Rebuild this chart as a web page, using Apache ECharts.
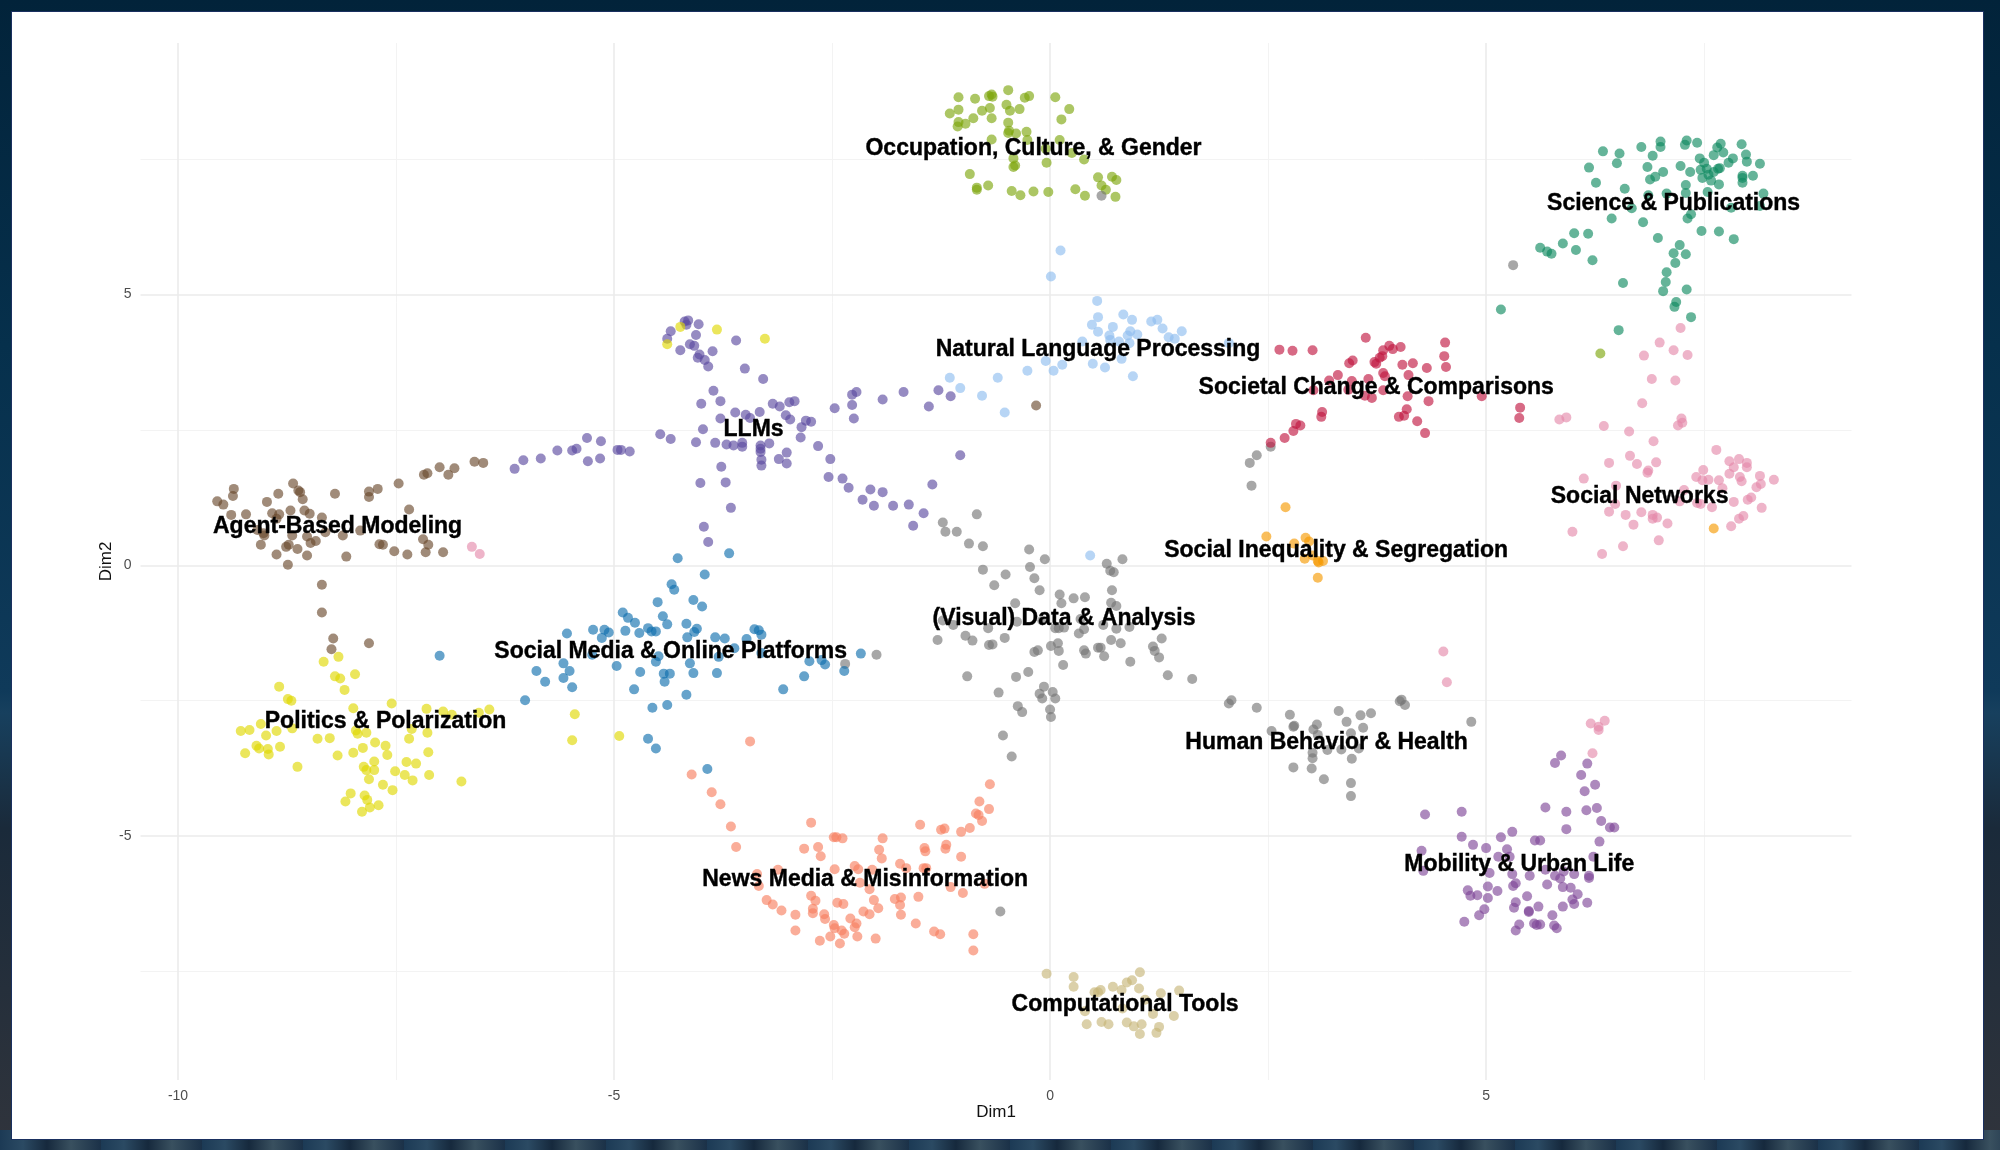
<!DOCTYPE html>
<html>
<head>
<meta charset="UTF-8">
<title>Topic map</title>
<script src="https://cdn.jsdelivr.net/npm/echarts@6/dist/echarts.min.js"></script>
<style>
	html, body { margin: 0; padding: 0; width: 2000px; height: 1150px; overflow: hidden; }
	body { background: linear-gradient(180deg, #02233a 0, #06304c 30%, #0f3a5a 60%, #17405e 62%, #1a2a3a 72%, #30343c 100%); }
	#strip {
		position: absolute; left: 0; top: 1130px; width: 2000px; height: 20px;
		background: repeating-linear-gradient(90deg, #1c3a55 0, #2b4a63 23px, #16293d 47px, #39505f 71px, #1b3148 101px);
	}
	#panel { position: absolute; left: 12px; top: 12px; width: 1971px; height: 1127px; background: #fff; box-shadow: 0 0 0 1px #1a3060; }
	#chart { position: absolute; left: 0; top: 0; width: 2000px; height: 1150px; }
</style>
</head>
<body>
<div id="strip"></div>
<div id="panel"></div>
<div id="chart"></div>
<script>
// tick values
var xMajor = [-10, -5, 0, 5];
var xMinor = [-7.5, -2.5, 2.5, 7.5];
var yMajor = [-5, 0, 5];
var yMinor = [-7.5, -2.5, 2.5, 7.5];

// points, [Dim1, Dim2]
var occupation = [[-1.05,8.64],[-0.86,8.61],[-0.70,8.66],[-0.67,8.69],[-0.66,8.65],[-0.48,8.77],[-0.29,8.63],[-0.24,8.66],[0.06,8.64],[0.22,8.42],[-1.15,8.34],[-1.05,8.41],[-0.78,8.39],[-0.69,8.44],[-0.50,8.50],[-0.46,8.39],[-0.35,8.42],[0.13,8.23],[-0.88,8.25],[-0.97,8.15],[-1.05,8.18],[-1.06,8.10],[-0.67,8.25],[-0.48,8.17],[-0.47,8.02],[-0.48,7.98],[-0.39,7.97],[-0.27,8.00],[-0.67,7.86],[-0.26,7.85],[0.11,7.85],[-0.05,7.69],[0.25,7.61],[0.39,7.49],[-0.42,7.51],[-0.04,7.43],[-0.40,7.38],[-0.42,7.35],[-0.92,7.22],[-0.84,6.97],[-0.84,6.93],[-0.71,7.01],[-0.44,6.91],[-0.34,6.83],[-0.19,6.90],[-0.02,6.89],[0.29,6.94],[0.40,6.82],[0.55,7.16],[0.71,7.17],[0.76,7.11],[0.59,7.01],[0.64,6.93],[0.75,6.80],[6.31,3.91]];
var nlp = [[0.12,5.81],[0.01,5.33],[0.54,4.88],[0.55,4.58],[0.84,4.63],[0.94,4.53],[1.16,4.50],[1.23,4.53],[0.48,4.44],[0.72,4.40],[1.29,4.37],[0.55,4.31],[1.51,4.32],[0.92,4.32],[1.00,4.26],[0.89,4.24],[0.68,4.24],[1.36,4.21],[1.43,4.18],[0.37,4.13],[0.69,4.16],[0.79,4.13],[0.91,4.10],[2.05,4.10],[-0.05,3.77],[0.82,3.81],[0.49,3.72],[0.14,3.70],[0.63,3.65],[0.04,3.59],[-0.26,3.59],[0.95,3.49],[-0.60,3.46],[-1.15,3.46],[-1.03,3.27],[-0.78,3.13],[-0.52,2.82],[0.46,0.18]];
var llms = [[-4.15,4.52],[-4.19,4.50],[-4.17,4.44],[-4.03,4.45],[-4.35,4.32],[-4.06,4.25],[-3.60,4.15],[-4.39,4.18],[-4.13,4.08],[-4.08,4.05],[-4.24,3.97],[-3.87,3.95],[-4.02,3.89],[-4.04,3.83],[-3.96,3.79],[-3.92,3.67],[-3.50,3.63],[-3.29,3.44],[-3.86,3.22],[-2.22,3.20],[-2.27,3.15],[-4.00,2.98],[-3.78,3.03],[-1.68,3.20],[-1.92,3.06],[-1.28,3.23],[-1.14,3.12],[-2.47,2.90],[-2.27,2.96],[-1.39,2.93],[-3.18,2.98],[-3.10,2.93],[-2.99,3.01],[-2.93,3.03],[-3.61,2.82],[-3.49,2.78],[-3.33,2.83],[-3.03,2.77],[-3.78,2.71],[-3.44,2.72],[-2.98,2.69],[-2.80,2.67],[-2.74,2.65],[-2.25,2.71],[-2.85,2.55],[-3.98,2.51],[-4.47,2.42],[-4.35,2.33],[-2.86,2.36],[-4.06,2.27],[-3.84,2.26],[-3.71,2.23],[-3.63,2.21],[-3.53,2.26],[-3.53,2.19],[-3.22,2.25],[-3.32,2.21],[-2.66,2.20],[-3.32,2.15],[-6.14,1.78],[-6.04,1.94],[-5.84,1.97],[-5.65,2.12],[-5.48,2.12],[-5.43,2.15],[-5.31,2.35],[-5.15,2.29],[-5.30,1.92],[-5.16,1.97],[-4.96,2.13],[-4.92,2.13],[-4.82,2.10],[-3.32,2.09],[-3.31,1.95],[-3.31,1.84],[-3.11,1.96],[-3.02,2.08],[-3.02,1.88],[-3.77,1.82],[-4.01,1.52],[-3.72,1.53],[-3.66,1.06],[-3.97,0.71],[-3.92,0.43],[-2.52,1.96],[-2.54,1.63],[-2.38,1.60],[-2.31,1.43],[-2.06,1.40],[-1.92,1.35],[-2.15,1.21],[-2.02,1.10],[-1.80,1.10],[-1.62,1.12],[-1.45,0.96],[-1.57,0.73],[-1.35,1.49],[-1.03,2.03]];
var visualData = [[-0.84,0.94],[-1.23,0.79],[-1.20,0.62],[-1.07,0.62],[-0.93,0.40],[-0.77,0.35],[-0.24,0.29],[-0.06,0.11],[-0.77,-0.08],[-0.51,-0.17],[-0.23,-0.03],[-0.18,-0.24],[-0.64,-0.37],[-0.12,-0.46],[-0.40,-0.70],[0.11,-0.54],[0.13,-0.70],[0.27,-0.61],[0.40,-0.59],[0.65,0.03],[0.83,0.11],[0.69,-0.10],[0.73,-0.13],[0.71,-0.46],[0.70,-0.69],[0.76,-0.75],[-1.23,-1.02],[-1.11,-1.10],[-0.71,-1.16],[-0.38,-1.04],[-0.09,-1.02],[0.35,-0.99],[0.61,-1.10],[0.06,-1.16],[0.10,-1.16],[0.16,-1.15],[0.39,-1.18],[0.33,-1.26],[0.76,-1.17],[0.91,-1.14],[-1.29,-1.38],[-0.97,-1.30],[-0.89,-1.39],[-0.52,-1.34],[-0.70,-1.47],[-0.66,-1.46],[0.09,-1.44],[0.01,-1.49],[0.10,-1.58],[-0.18,-1.60],[-0.14,-1.57],[0.39,-1.57],[0.41,-1.63],[0.55,-1.52],[0.58,-1.52],[0.70,-1.38],[0.81,-1.44],[0.62,-1.68],[1.18,-1.50],[1.20,-1.58],[1.25,-1.70],[1.28,-1.35],[0.92,-1.78],[0.15,-1.84],[-1.99,-1.65],[1.35,-2.03],[1.63,-2.10],[-0.25,-1.97],[-0.39,-2.06],[-0.95,-2.05],[-0.07,-2.24],[0.03,-2.34],[0.06,-2.46],[-0.12,-2.37],[-0.09,-2.46],[-0.59,-2.35],[-0.37,-2.60],[-0.32,-2.71],[0,-2.66],[0.01,-2.80],[-0.54,-3.14],[-0.44,-3.53],[0.59,6.82],[5.31,5.54],[-0.57,-6.39],[2.29,1.89],[2.37,2.03],[2.31,1.47],[2.53,2.19],[-2.35,-1.82]];
var humanBehavior = [[2.05,-2.55],[2.08,-2.49],[2.37,-2.63],[2.75,-2.76],[3.31,-2.69],[3.56,-2.77],[3.68,-2.73],[3.40,-2.89],[4.01,-2.51],[4.03,-2.48],[4.07,-2.58],[4.83,-2.89],[2.79,-2.98],[2.80,-2.96],[3.06,-2.94],[3.02,-3.03],[3.59,-3.00],[2.54,-3.06],[3.07,-3.13],[3.45,-3.10],[3.18,-3.41],[3.34,-3.40],[3.54,-3.38],[3.01,-3.46],[3.01,-3.56],[3.46,-3.57],[2.79,-3.73],[3.00,-3.75],[3.14,-3.95],[3.45,-4.02],[3.45,-4.26]];
var socialMedia = [[-3.68,0.22],[-4.27,0.13],[-3.96,-0.17],[-4.34,-0.35],[-4.31,-0.45],[-4.50,-0.68],[-4.09,-0.64],[-3.99,-0.76],[-4.90,-0.87],[-4.84,-0.97],[-4.76,-1.06],[-4.44,-0.94],[-4.39,-1.09],[-4.17,-1.08],[-4.05,-1.17],[-4.08,-1.23],[-4.16,-1.33],[-5.54,-1.26],[-5.24,-1.19],[-5.11,-1.19],[-5.06,-1.24],[-5.14,-1.34],[-4.87,-1.21],[-4.71,-1.25],[-4.61,-1.16],[-4.57,-1.22],[-4.52,-1.22],[-3.84,-1.33],[-3.73,-1.35],[-3.39,-1.18],[-3.34,-1.20],[-3.31,-1.28],[-3.48,-1.36],[-3.62,-1.53],[-7.00,-1.67],[-5.25,-1.65],[-4.49,-1.68],[-4.52,-1.78],[-3.80,-1.69],[-3.31,-1.62],[-4.13,-1.81],[-5.58,-1.81],[-5.89,-1.95],[-5.51,-1.95],[-5.58,-2.08],[-5.79,-2.15],[-5.48,-2.25],[-4.97,-1.86],[-4.70,-1.97],[-4.43,-2.00],[-4.36,-2.00],[-4.09,-1.99],[-3.82,-1.99],[-4.42,-2.15],[-4.77,-2.29],[-4.17,-2.39],[-4.56,-2.63],[-4.39,-2.58],[-6.02,-2.49],[-3.06,-2.29],[-2.82,-2.05],[-2.76,-1.77],[-2.62,-1.75],[-2.58,-1.83],[-2.36,-1.95],[-4.61,-3.20],[-4.52,-3.38],[-3.93,-3.76],[-2.17,-1.63]];
var politics = [[-8.16,-1.69],[-8.33,-1.78],[-7.97,-2.01],[-8.20,-2.05],[-8.14,-2.09],[-8.84,-2.24],[-8.09,-2.30],[-8.74,-2.47],[-8.70,-2.50],[-7.55,-2.55],[-7.99,-2.64],[-7.15,-2.65],[-6.96,-2.70],[-6.86,-2.76],[-6.55,-2.72],[-6.43,-2.66],[-9.05,-2.93],[-9.28,-3.06],[-9.18,-3.04],[-8.87,-3.06],[-8.69,-3.01],[-8.99,-3.14],[-7.96,-3.05],[-7.94,-3.11],[-7.84,-3.09],[-7.32,-3.02],[-7.14,-3.09],[-7.35,-3.20],[-8.40,-3.20],[-8.26,-3.19],[-7.74,-3.27],[-7.62,-3.33],[-9.10,-3.33],[-9.07,-3.38],[-8.83,-3.35],[-8.97,-3.39],[-8.96,-3.49],[-9.23,-3.47],[-7.88,-3.37],[-7.99,-3.46],[-8.17,-3.51],[-7.60,-3.50],[-7.13,-3.45],[-8.63,-3.72],[-7.75,-3.62],[-7.38,-3.63],[-7.27,-3.66],[-7.87,-3.72],[-7.84,-3.78],[-7.75,-3.78],[-7.51,-3.80],[-7.40,-3.87],[-7.12,-3.87],[-7.31,-3.97],[-7.81,-3.95],[-7.65,-4.05],[-6.75,-3.99],[-7.54,-4.15],[-8.02,-4.21],[-7.86,-4.25],[-7.83,-4.33],[-8.08,-4.36],[-7.70,-4.43],[-7.80,-4.47],[-7.89,-4.55],[-5.45,-2.75],[-5.48,-3.23],[-4.94,-3.15],[-4.24,4.40],[-4.39,4.08],[-3.82,4.35],[-3.27,4.18]];
var agentBased = [[-9.36,1.41],[-9.37,1.28],[-9.55,1.18],[-9.48,1.12],[-8.68,1.51],[-8.62,1.38],[-8.60,1.35],[-8.85,1.32],[-8.98,1.17],[-8.57,1.22],[-8.20,1.32],[-7.81,1.36],[-7.81,1.26],[-7.71,1.41],[-7.47,1.51],[-7.18,1.67],[-7.14,1.70],[-7.00,1.81],[-6.83,1.79],[-6.90,1.67],[-6.60,1.91],[-6.50,1.89],[-9.39,0.93],[-9.22,0.94],[-8.92,0.96],[-8.84,0.94],[-8.71,1.01],[-8.55,1.01],[-8.49,0.95],[-8.35,0.88],[-7.35,1.03],[-8.87,0.86],[-9.09,0.65],[-9.02,0.59],[-9.01,0.55],[-8.69,0.55],[-8.52,0.53],[-8.31,0.61],[-8.11,0.55],[-7.91,0.64],[-8.42,0.45],[-8.48,0.41],[-9.05,0.38],[-8.73,0.38],[-8.76,0.34],[-8.63,0.30],[-8.87,0.20],[-8.52,0.18],[-8.07,0.16],[-8.74,0.01],[-7.69,0.39],[-7.65,0.38],[-7.52,0.26],[-7.37,0.20],[-7.19,0.48],[-7.13,0.38],[-7.16,0.24],[-6.96,0.24],[-8.35,-0.36],[-8.35,-0.87],[-8.22,-1.35],[-8.24,-1.55],[-7.81,-1.44],[-0.16,2.95]];
var newsMedia = [[-3.88,-4.19],[-3.78,-4.41],[-3.66,-4.82],[-3.60,-5.20],[-2.74,-4.75],[-2.48,-5.02],[-2.45,-5.02],[-2.38,-5.04],[-1.92,-5.04],[-2.82,-5.23],[-2.66,-5.20],[-2.63,-5.37],[-1.96,-5.25],[-1.93,-5.41],[-1.49,-4.79],[-1.25,-4.88],[-1.21,-4.86],[-1.02,-4.92],[-0.92,-4.85],[-0.85,-4.58],[-0.82,-4.61],[-0.78,-4.72],[-0.81,-4.36],[-0.70,-4.50],[-0.69,-4.04],[-1.44,-5.22],[-1.43,-5.28],[-1.19,-5.16],[-1.20,-5.23],[-1.02,-5.38],[-2.24,-5.55],[-2.20,-5.61],[-1.72,-5.51],[-1.65,-5.59],[-2.47,-5.61],[-3.12,-5.62],[-3.36,-5.70],[-2.04,-5.62],[-1.45,-5.59],[-1.42,-5.59],[-3.34,-5.92],[-2.18,-5.86],[-2.07,-5.98],[-1.14,-5.94],[-0.75,-5.88],[-1.00,-6.05],[-2.74,-6.10],[-2.69,-6.19],[-3.25,-6.18],[-3.18,-6.26],[-3.08,-6.37],[-2.92,-6.45],[-2.72,-6.34],[-2.72,-6.42],[-2.59,-6.44],[-2.58,-6.53],[-2.44,-6.23],[-2.37,-6.25],[-2.02,-6.18],[-1.97,-6.33],[-2.14,-6.39],[-2.07,-6.44],[-1.78,-6.16],[-1.71,-6.13],[-1.72,-6.27],[-1.51,-6.12],[-1.71,-6.45],[-2.29,-6.52],[-2.22,-6.61],[-2.24,-6.68],[-2.48,-6.64],[-2.47,-6.70],[-2.39,-6.74],[-2.36,-6.80],[-2.92,-6.74],[-2.64,-6.93],[-2.52,-6.85],[-2.41,-6.98],[-2.21,-6.85],[-2.00,-6.89],[-1.54,-6.61],[-1.33,-6.76],[-1.26,-6.81],[-0.88,-6.81],[-0.88,-7.11],[-3.44,-3.25],[-4.11,-3.86]];
var compTools = [[-0.04,-7.54],[0.27,-7.60],[0.27,-7.78],[1.03,-7.51],[0.94,-7.66],[0.88,-7.70],[0.72,-7.78],[0.58,-7.84],[0.51,-7.88],[0.55,-7.88],[0.82,-7.84],[1.02,-7.81],[1.27,-7.90],[1.48,-7.85],[1.09,-8.02],[0.83,-8.18],[0.40,-8.23],[1.18,-8.28],[1.42,-8.32],[0.42,-8.47],[0.59,-8.43],[0.67,-8.47],[0.88,-8.44],[0.96,-8.51],[1.05,-8.47],[1.25,-8.52],[1.22,-8.63],[1.03,-8.65]];
var mobility = [[5.86,-3.51],[5.79,-3.65],[6.16,-3.66],[6.09,-3.87],[6.25,-4.05],[6.13,-4.17],[5.68,-4.47],[5.92,-4.55],[6.15,-4.52],[6.27,-4.48],[6.32,-4.72],[6.42,-4.84],[6.47,-4.84],[5.92,-4.87],[4.30,-4.60],[4.72,-4.55],[4.72,-5.01],[5.17,-5.02],[5.30,-4.92],[4.85,-5.16],[5.00,-5.22],[5.24,-5.24],[5.56,-5.08],[5.62,-5.08],[6.30,-5.10],[4.26,-5.27],[5.14,-5.38],[5.27,-5.38],[6.23,-5.38],[4.28,-5.64],[5.04,-5.68],[5.30,-5.70],[5.50,-5.73],[5.68,-5.62],[5.79,-5.73],[5.85,-5.78],[5.89,-5.65],[6.01,-5.70],[6.18,-5.73],[6.18,-5.77],[5.34,-5.87],[5.31,-5.92],[5.02,-5.93],[5.70,-5.89],[5.88,-5.94],[5.97,-5.95],[5.13,-6.01],[4.79,-6.00],[4.82,-6.10],[4.90,-6.09],[5.02,-6.14],[5.47,-6.11],[6.05,-6.07],[5.99,-6.17],[6.01,-6.25],[6.16,-6.23],[5.34,-6.22],[5.32,-6.32],[5.60,-6.30],[5.88,-6.30],[5.49,-6.38],[5.49,-6.40],[4.98,-6.35],[4.92,-6.46],[5.76,-6.46],[4.75,-6.58],[5.38,-6.63],[5.55,-6.61],[5.58,-6.64],[5.62,-6.63],[5.78,-6.65],[5.81,-6.70],[5.34,-6.74]];
var science = [[6.34,7.64],[6.53,7.60],[6.78,7.72],[6.91,7.56],[7.00,7.82],[7.00,7.72],[7.30,7.84],[7.28,7.76],[7.42,7.80],[7.69,7.78],[7.65,7.71],[7.72,7.62],[7.61,7.57],[7.93,7.77],[7.98,7.58],[7.99,7.45],[8.14,7.41],[6.50,7.42],[6.18,7.34],[6.85,7.35],[7.03,7.26],[6.94,7.17],[6.88,7.12],[7.23,7.37],[7.34,7.26],[7.45,7.51],[7.50,7.43],[7.46,7.30],[7.53,7.32],[7.48,7.15],[7.55,7.21],[7.61,7.26],[7.58,7.10],[7.68,7.33],[7.66,7.32],[7.78,7.43],[7.83,7.51],[7.94,7.19],[7.94,7.15],[8.06,7.19],[7.94,7.06],[7.67,7.03],[7.29,7.02],[7.29,6.87],[6.26,7.06],[6.59,6.95],[6.86,6.83],[7.07,6.86],[7.54,6.89],[8.18,6.86],[6.67,6.59],[7.35,6.48],[7.31,6.40],[6.44,6.40],[6.80,6.33],[7.81,6.60],[8.14,6.63],[7.47,6.17],[7.67,6.16],[7.84,6.02],[6.01,6.13],[6.17,6.12],[6.97,6.04],[7.22,5.91],[5.88,5.94],[6.03,5.82],[5.62,5.86],[5.70,5.79],[5.75,5.75],[6.22,5.63],[7.15,5.76],[7.29,5.74],[7.17,5.58],[7.07,5.41],[7.06,5.23],[6.57,5.21],[7.03,5.06],[7.30,5.09],[7.18,4.86],[7.16,4.77],[7.35,4.58],[5.17,4.72],[6.52,4.34]];
var socialNetworks = [[7.23,4.38],[6.99,4.11],[7.15,3.97],[7.31,3.88],[6.81,3.87],[6.90,3.44],[7.17,3.41],[6.79,2.99],[5.84,2.69],[5.92,2.73],[7.24,2.71],[7.25,2.63],[7.20,2.58],[6.35,2.57],[6.64,2.47],[6.92,2.29],[7.64,2.13],[6.65,2.02],[6.41,1.89],[6.73,1.87],[6.95,1.90],[6.86,1.75],[6.85,1.71],[7.79,1.92],[7.90,1.96],[7.99,1.89],[7.99,1.81],[7.84,1.81],[7.49,1.76],[7.79,1.69],[7.41,1.63],[7.48,1.57],[7.55,1.58],[6.12,1.60],[7.67,1.57],[7.91,1.63],[7.93,1.55],[8.14,1.65],[8.30,1.58],[8.15,1.50],[8.10,1.44],[6.49,1.47],[7.71,1.42],[7.27,1.39],[8.04,1.25],[8.00,1.21],[7.84,1.17],[7.22,1.18],[7.42,1.15],[7.46,1.13],[7.59,1.07],[8.16,1.06],[6.48,1.13],[6.41,0.99],[6.60,0.93],[6.78,0.98],[6.91,0.93],[6.96,0.88],[6.91,0.86],[7.08,0.77],[6.69,0.75],[7.95,0.91],[7.90,0.86],[7.81,0.72],[5.99,0.62],[6.98,0.46],[6.57,0.35],[6.33,0.21],[-6.63,0.34],[-6.54,0.21],[6.20,-2.92],[6.36,-2.87],[6.29,-2.98],[6.29,-3.04],[6.22,-3.47],[4.51,-1.59],[4.55,-2.16]];
var societal = [[3.62,4.20],[3.01,3.97],[3.89,4.05],[3.93,3.99],[4.02,4.03],[4.53,4.11],[4.52,3.86],[4.54,3.66],[3.82,3.97],[3.81,3.86],[3.78,3.83],[3.47,3.78],[3.43,3.73],[3.72,3.75],[3.74,3.72],[4.04,3.70],[4.16,3.73],[4.32,3.64],[3.82,3.55],[3.84,3.49],[4.11,3.51],[3.30,3.51],[3.20,3.41],[3.46,3.40],[3.65,3.44],[3.02,3.23],[3.42,3.24],[3.82,3.23],[3.61,3.13],[3.69,3.09],[4.10,3.12],[4.95,3.12],[4.34,3.03],[4.09,2.88],[4.06,2.76],[4.00,2.74],[4.21,2.66],[4.30,2.44],[3.12,2.83],[3.11,2.74],[5.39,2.91],[5.38,2.72],[2.63,3.98],[2.78,3.96],[2.82,2.61],[2.87,2.58],[2.79,2.48],[2.69,2.35],[2.53,2.26]];
var inequality = [[2.70,1.07],[2.48,0.53],[2.93,0.51],[2.97,0.44],[2.80,0.40],[2.92,0.12],[3.07,0.08],[3.08,0.05],[3.13,0.08],[3.01,0.18],[3.07,-0.23],[7.61,0.68]];

var labelNames = ['Occupation, Culture, & Gender','Natural Language Processing','LLMs','Societal Change & Comparisons','Science & Publications','Social Networks','Social Inequality & Segregation','(Visual) Data & Analysis','Human Behavior & Health','Mobility & Urban Life','News Media & Misinformation','Computational Tools','Agent-Based Modeling','Social Media & Online Platforms','Politics & Polarization'];
var labelX = [-0.19,0.55,-3.40,3.74,7.15,6.76,3.28,0.16,3.17,5.38,-2.12,0.86,-8.17,-4.35,-7.62];
var labelY = [7.72,4.00,2.53,3.31,6.70,1.30,0.30,-0.95,-3.25,-5.49,-5.77,-8.09,0.75,-1.57,-2.85];

var groups = [
	[occupation, '#7da60d'], [nlp, '#8fbef0'], [llms, '#5a4a9f'], [visualData, '#757575'],
	[humanBehavior, '#757575'], [socialMedia, '#0f6fae'], [politics, '#e0d800'], [agentBased, '#6a4a2e'],
	[newsMedia, '#f77f5f'], [compTools, '#c7b578'], [mobility, '#7f4797'], [science, '#0e8a5f'],
	[socialNetworks, '#e58aaa'], [societal, '#c01640'], [inequality, '#f59a00']
];

var series = groups.map(function (g) {
	return {
		type: 'scatter', data: g[0], symbolSize: 10, silent: true,
		itemStyle: { color: g[1], opacity: 0.64 }
	};
});
series.push({
	type: 'scatter', symbolSize: 0, silent: true, z: 10,
	itemStyle: { opacity: 1 },
	data: labelNames.map(function (n, i) { return { name: n, value: [labelX[i], labelY[i]] }; }),
	label: {
		show: true, position: 'inside', offset: [0, 1.5], formatter: '{b}', color: '#000', opacity: 1,
		fontFamily: 'Liberation Sans', fontWeight: 'bold', fontSize: 23,
		textBorderColor: '#000', textBorderWidth: 0.4
	}
});

var gridMajor = { show: true, lineStyle: { color: '#ebebeb', width: 1.6 } };
var gridMinor = { show: true, lineStyle: { color: '#f3f3f3', width: 1 } };
var hidden = { show: false };
var tickFont = { color: '#4d4d4d', fontFamily: 'Liberation Sans', fontSize: 14 };
var nameFont = { color: '#111', fontFamily: 'Liberation Sans', fontSize: 17 };

var option = {
	animation: false,
	backgroundColor: 'transparent',
	grid: { left: 140.5, right: 148.5, top: 43, bottom: 70 },
	xAxis: [
		{
			type: 'value', min: -10.43, max: 9.19, name: 'Dim1', nameLocation: 'middle', nameGap: 24, nameMoveOverlap: false,
			nameTextStyle: nameFont, axisLine: hidden, z: 2,
			axisTick: { show: false, customValues: xMajor },
			axisLabel: Object.assign({ margin: 9, customValues: xMajor, formatter: '{value}' }, tickFont),
			splitLine: gridMajor
		},
		{
			type: 'value', min: -10.43, max: 9.19, position: 'bottom', axisLine: hidden,
			axisTick: { show: false, customValues: xMinor }, axisLabel: { show: false, customValues: xMinor },
			splitLine: gridMinor
		}
	],
	yAxis: [
		{
			type: 'value', min: -9.5, max: 9.64, name: 'Dim2', nameLocation: 'middle', nameGap: 26, nameMoveOverlap: false,
			nameTextStyle: nameFont, axisLine: hidden, z: 2,
			axisTick: { show: false, customValues: yMajor },
			axisLabel: Object.assign({ margin: 9, customValues: yMajor, formatter: '{value}' }, tickFont),
			splitLine: gridMajor
		},
		{
			type: 'value', min: -9.5, max: 9.64, position: 'left', axisLine: hidden,
			axisTick: { show: false, customValues: yMinor }, axisLabel: { show: false, customValues: yMinor },
			splitLine: gridMinor
		}
	],
	series: series
};

var myChart = echarts.init(document.getElementById('chart'));
myChart.setOption(option);
</script>
</body>
</html>
